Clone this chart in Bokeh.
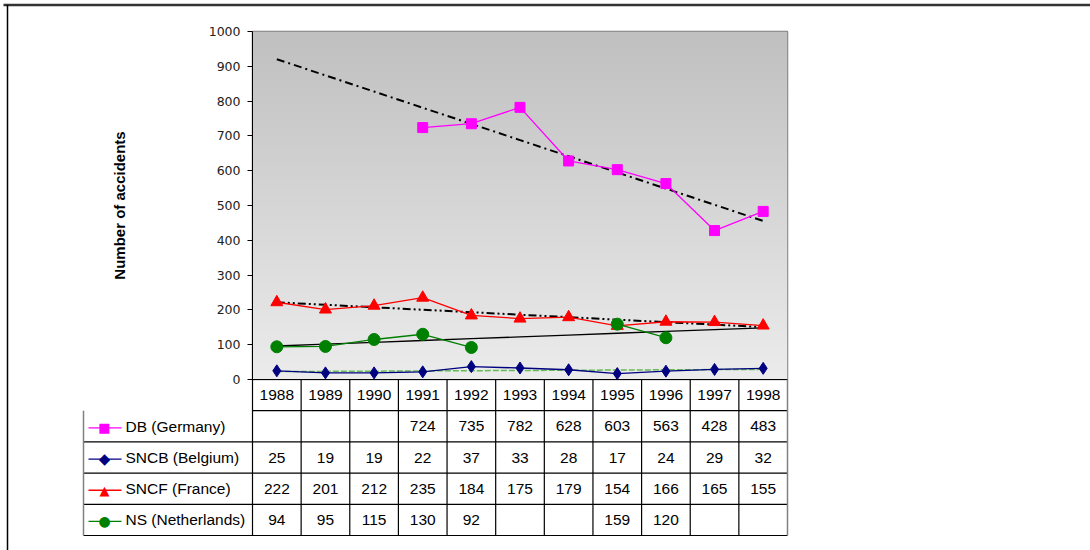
import numpy as np
from bokeh.plotting import figure
from bokeh.models import Range1d, FixedTicker
from bokeh.core.properties import value
from bokeh.embed import file_html
from bokeh.resources import INLINE

# ---------------- data ----------------
years = ["1988", "1989", "1990", "1991", "1992", "1993", "1994", "1995", "1996", "1997", "1998"]
nan = float("nan")
db_germany = [nan, nan, nan, 724, 735, 782, 628, 603, 563, 428, 483]
sncb_belgium = [25, 19, 19, 22, 37, 33, 28, 17, 24, 29, 32]
sncf_france = [222, 201, 212, 235, 184, 175, 179, 154, 166, 165, 155]
ns_netherlands = [94, 95, 115, 130, 92, nan, nan, 159, 120, nan, nan]
series_names = ["DB (Germany)", "SNCB (Belgium)", "SNCF (France)", "NS (Netherlands)"]
y_ticks = [0, 100, 200, 300, 400, 500, 600, 700, 800, 900, 1000]
y_title = "Number of accidents"

series = [db_germany, sncb_belgium, sncf_france, ns_netherlands]
colors = ["#ff00ff", "#000080", "#ff0000", "#008000"]
markers = ["square", "diamond", "triangle", "circle"]
msizes = [10, 12, 12, 12]
key_glyphs = ["\u25A0", "\u25C6", "\u25B2", "\u25CF"]
key_sizes = ["13px", "15px", "13px", "14px"]

# ---------------- geometry (pixels) ----------------
W, H = 1090, 550
FL, FR, FT, FB = 252, 787, 31, 379
PXU = (FR - FL) / len(years)          # pixels per category
RH = 31.2                              # table row height
TBL_LEFT = 83

def px2x(px):
    return -0.5 + (px - FL) / PXU

def px2y(py):
    return (FB - py) / (FB - FT) * 1000.0

idx = np.arange(len(years))

p = figure(width=W, height=H, output_backend="svg", toolbar_location=None,
           x_range=Range1d(-0.5, len(years) - 0.5), y_range=Range1d(0, 1000),
           x_axis_location=None, min_border_left=FL, min_border_right=W - FR,
           min_border_top=FT, min_border_bottom=H - FB)
p.extra_y_ranges = {"tbl": Range1d(0, (FB - FT) / RH)}
p.grid.visible = False
p.outline_line_color = "#808080"
p.outline_line_width = 1.5
p.background_fill_color = "white"
p.border_fill_color = "white"

# gradient plot area
n = 200
t = np.linspace(0, 1, n)
g = (0xec + (0xc0 - 0xec) * t).astype(np.uint8)
img = np.empty((n, 1), dtype=np.uint32)
v = img.view(dtype=np.uint8).reshape((n, 1, 4))
v[:, 0, 0] = g; v[:, 0, 1] = g; v[:, 0, 2] = g; v[:, 0, 3] = 255
p.image_rgba(image=[img], x=-0.5, y=0, dw=len(years), dh=1000)

# y axis
ax = p.yaxis[0]
ax.ticker = FixedTicker(ticks=y_ticks)
ax.minor_tick_line_color = None
ax.major_tick_in = 0
ax.major_tick_out = 5
ax.major_label_standoff = 7
ax.major_label_text_font = "DejaVu Sans"
ax.major_label_text_font_size = "12.5px"
ax.major_label_text_color = "#222222"
ax.axis_line_color = "black"
ax.major_tick_line_color = "black"
ax.axis_label = y_title
ax.axis_label_text_font = "Liberation Sans"
ax.axis_label_text_font_style = "bold"
ax.axis_label_text_font_size = "15px"
ax.axis_label_text_color = "black"
ax.axis_label_standoff = 78

# trend lines
def trend(vals, color, dash, width):
    arr = np.array(vals, dtype=float)
    m = ~np.isnan(arr)
    k, b = np.polyfit(idx[m], arr[m], 1)
    p.line(idx, k * idx + b, line_color=color, line_dash=dash, line_width=width)

trend(sncb_belgium, "#66bb55", "6 2", 1.5)
trend(ns_netherlands, "black", "solid", 1.3)
trend(sncf_france, "black", "8 3 2 3 2 3", 2)
trend(db_germany, "black", "8 4 2 4", 2)

# series
for vals, c, mk, ms in zip(series, colors, markers, msizes):
    p.line(idx, vals, line_color=c, line_width=1.3)
    arr = np.array(vals, dtype=float)
    m = ~np.isnan(arr)
    p.scatter(idx[m], arr[m], marker=mk, size=ms, fill_color=c, line_color=c)

# ---------------- data table ----------------
XL = px2x(TBL_LEFT)
XR = len(years) - 0.5
nrows = len(series) + 1
kw = dict(y_range_name="tbl", level="overlay")
# horizontal lines
hx0 = [-0.5] + [XL] * len(series)
hx1 = [XR] * nrows
hy = [-r for r in range(1, nrows + 1)]
p.segment(x0=[-0.5] + hx0, y0=[0] + hy, x1=[XR] + hx1, y1=[0] + hy,
          line_color="black", line_width=1.2, **kw)
# vertical lines
vx = [-0.5 + k for k in range(len(years))]
p.segment(x0=vx, y0=[0] * len(vx), x1=vx, y1=[-nrows] * len(vx),
          line_color="black", line_width=1.2, **kw)
p.segment(x0=[XR, XL], y0=[0, -1], x1=[XR, XL], y1=[-nrows, -nrows],
          line_color="#808080", line_width=1.5, **kw)

tf = value("Liberation Sans")
p.text(x=idx, y=[-0.5] * len(years), text=years, text_align="center",
       text_baseline="middle", text_font=tf, text_font_size="15.5px",
       text_color="black", **kw)
for r, (vals, name, c, kg, ks) in enumerate(zip(series, series_names, colors, key_glyphs, key_sizes), start=1):
    arr = np.array(vals, dtype=float)
    m = ~np.isnan(arr)
    p.text(x=idx[m], y=[-r - 0.5] * int(m.sum()),
           text=[str(int(x)) for x in arr[m]], text_align="center",
           text_baseline="middle", text_font=tf, text_font_size="15.5px",
           text_color="black", **kw)
    p.segment(x0=[px2x(88)], y0=[-r - 0.55], x1=[px2x(121)], y1=[-r - 0.55],
              line_color=c, line_width=1.3, **kw)
    p.text(x=[px2x(104)], y=[-r - 0.55], text=[kg], text_align="center",
           text_baseline="middle", text_font=value("DejaVu Sans"), text_font_size=ks,
           text_color=c, **kw)
    p.text(x=[px2x(125)], y=[-r - 0.5], text=[name], text_align="left",
           text_baseline="middle", text_font=tf, text_font_size="15.5px",
           text_color="black", **kw)

# outer chart-area border (top and left edges)
p.segment(x0=[px2x(3), px2x(7)], y0=[px2y(4.5), px2y(4.5)],
          x1=[px2x(W + 20), px2x(7)], y1=[px2y(4.5), px2y(H + 20)],
          line_color=["#333333", "black"], line_width=[2.5, 1.5], level="overlay")

open("out.html", "w").write(file_html(p, INLINE))
